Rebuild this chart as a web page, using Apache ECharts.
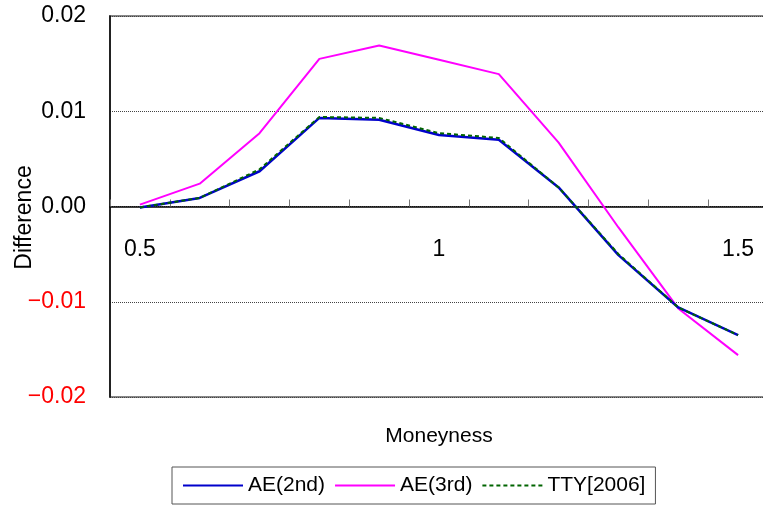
<!DOCTYPE html>
<html>
<head>
<meta charset="utf-8">
<script src="https://cdn.jsdelivr.net/npm/echarts@6/dist/echarts.min.js"></script>
<style>
  html, body { margin: 0; padding: 0; background: #fff; }
  #chart { width: 763px; height: 507px; }
</style>
</head>
<body>
<div id="chart"></div>
<script>
// Moneyness grid (category axis)
const moneyness = ['0.5', '0.6', '0.7', '0.8', '0.9', '1', '1.1', '1.2', '1.3', '1.4', '1.5'];

// Pricing differences for each approximation
const ae2nd = [-0.0001, 0.0009, 0.0037, 0.0093, 0.0091, 0.0075, 0.0070, 0.0020, -0.0051, -0.0106, -0.0135];
const ae3rd = [0.0002, 0.0024, 0.0077, 0.0155, 0.0169, 0.0154, 0.0139, 0.0067, -0.0022, -0.0107, -0.0156];
const tty2006 = [-0.0001, 0.0009, 0.0039, 0.0094, 0.0093, 0.0077, 0.0072, 0.0020, -0.0050, -0.0106, -0.0135];

const seriesNames = ['AE(2nd)', 'AE(3rd)', 'TTY[2006]'];

const FONT = '"Liberation Sans", Arial, sans-serif';

const chart = echarts.init(document.getElementById('chart'), null, { renderer: 'canvas' });

chart.setOption({
  backgroundColor: '#ffffff',
  animation: false,
  textStyle: { fontFamily: FONT },
  grid: {
    left: 110, top: 16, width: 658, height: 381,
    outerBoundsMode: 'none',
    containLabel: false,
    show: true, borderColor: '#888', borderWidth: 2, backgroundColor: 'transparent'
  },
  legend: {
    data: seriesNames,
    left: 172, top: 467,
    padding: [8, 10, 8, 10],
    itemGap: 9, itemWidth: 60, itemHeight: 14,
    borderColor: '#555', borderWidth: 1, borderRadius: 0,
    backgroundColor: '#fff',
    itemStyle: { opacity: 0 },
    textStyle: { fontSize: 21, color: '#000', fontFamily: FONT }
  },
  xAxis: {
    type: 'category',
    data: moneyness,
    boundaryGap: true,
    name: 'Moneyness',
    nameLocation: 'middle',
    nameGap: 29,
    nameMoveOverlap: false,
    nameTextStyle: { fontSize: 21, color: '#000', fontFamily: FONT },
    axisLine: { onZero: true, lineStyle: { color: '#000', width: 1.5 } },
    axisTick: { show: true, inside: true, length: 7, interval: 0, lineStyle: { color: '#777', width: 1 } },
    axisLabel: { interval: 4, margin: -159, fontSize: 23, color: '#000', fontFamily: FONT },
    splitLine: { show: false }
  },
  yAxis: {
    type: 'value',
    min: -0.02, max: 0.02, interval: 0.01,
    name: 'Difference',
    nameLocation: 'middle',
    nameRotate: 90,
    nameGap: 74,
    nameMoveOverlap: false,
    nameTextStyle: { fontSize: 23, color: '#000', fontFamily: FONT, padding: [0, 22, 0, 0] },
    axisLine: { show: true, lineStyle: { color: '#000', width: 1.5 } },
    axisTick: { show: false },
    axisLabel: {
      margin: 24,
      fontSize: 23,
      fontFamily: FONT,
      formatter: function (v) {
        const t = Math.abs(v).toFixed(2);
        return v < -1e-9 ? '{neg|\u2212' + t + '}' : '{pos|' + t + '}';
      },
      rich: {
        neg: { color: '#ff0000', fontSize: 23, fontFamily: FONT },
        pos: { color: '#000', fontSize: 23, fontFamily: FONT }
      }
    },
    splitLine: { show: true, lineStyle: { color: '#444', type: [1, 1], width: 1 } }
  },
  series: [
    {
      name: seriesNames[0], type: 'line', data: ae2nd,
      symbol: 'none', z: 3,
      lineStyle: { color: '#0000cc', width: 2.5 },
      itemStyle: { color: '#0000cc' }
    },
    {
      name: seriesNames[1], type: 'line', data: ae3rd,
      symbol: 'none', z: 2,
      lineStyle: { color: '#ff00ff', width: 2 },
      itemStyle: { color: '#ff00ff' }
    },
    {
      name: seriesNames[2], type: 'line', data: tty2006,
      symbol: 'none', z: 4,
      lineStyle: { color: '#006400', width: 2, type: [4, 3] },
      itemStyle: { color: '#006400' }
    }
  ]
});
</script>
</body>
</html>
